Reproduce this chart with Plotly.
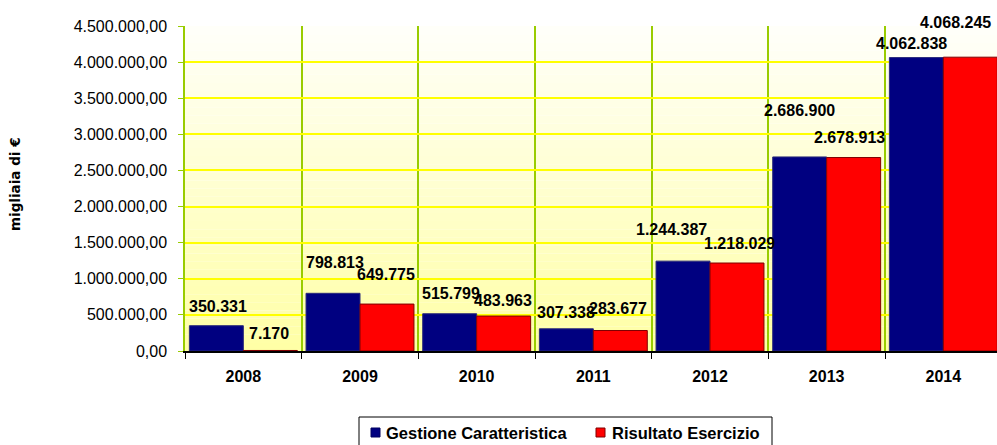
import plotly.graph_objs as go

# chart data
years = ['2008', '2009', '2010', '2011', '2012', '2013', '2014']
gestione = [350331, 798813, 515799, 307338, 1244387, 2686900, 4062838]
risultato = [7170, 649775, 483963, 283677, 1218029, 2678913, 4068245]
series_names = ['Gestione Caratteristica', 'Risultato Esercizio']
y_ticks = [0, 500000, 1000000, 1500000, 2000000, 2500000, 3000000,
           3500000, 4000000, 4500000]

# label nudges in pixels (dx, dy) relative to the bar top, as placed in the original
gestione_nudge = [(2, 19), (2, 31), (1, 20), (0, 16), (-12, 32), (0, 46), (-5, 14)]
risultato_nudge = [(-1, 17), (-1, 30), (-1, 16), (-2, 22), (2, 20), (-4, 20), (-15, 35)]

W, H = 997, 445
LEFT, TOP, BOTTOM = 185, 26, 351
FONT = 'Liberation Sans, Arial, sans-serif'
BLUE, RED = '#000080', '#FF0000'


def px_x(x):
    return (x - LEFT) / float(W - LEFT)
# end function


def px_y(y):
    return (BOTTOM - y) / float(BOTTOM - TOP)
# end function


def fmt(v):
    return '{:,}'.format(v).replace(',', '.')
# end function


def gradient_bands(n=40):
    # white at the top to pale yellow at the bottom
    shapes = []
    top, bot = 250, 165
    for i in range(n):
        b = int(round(bot + (top - bot) * (i + 0.5) / n))
        shapes.append(dict(
            type='rect', xref='paper', yref='paper',
            x0=0, x1=1, y0=i / float(n), y1=(i + 1) / float(n),
            fillcolor='rgb(255,255,%d)' % b, line=dict(width=0),
            layer='below'
        ))
    return shapes
# end function


def value_labels(values, nudges, side):
    notes = []
    for i, (v, (dx, dy)) in enumerate(zip(values, nudges)):
        notes.append(dict(
            x=i, y=v, xref='x', yref='y', text=fmt(v), showarrow=False,
            xanchor='center', yanchor='middle',
            xshift=side * 27 + dx, yshift=dy,
            font=dict(family=FONT, size=16, color='black', weight='bold')
        ))
    return notes
# end function


def legend_box():
    shapes = [
        dict(type='rect', xref='paper', yref='paper',
             x0=px_x(359), x1=px_x(772), y0=px_y(452), y1=px_y(417),
             fillcolor='white', line=dict(color='black', width=1)),
        dict(type='rect', xref='paper', yref='paper',
             x0=px_x(371), x1=px_x(380), y0=px_y(437), y1=px_y(428),
             fillcolor=BLUE, line=dict(color='#000060', width=1)),
        dict(type='rect', xref='paper', yref='paper',
             x0=px_x(596), x1=px_x(605), y0=px_y(437), y1=px_y(428),
             fillcolor=RED, line=dict(color='#800000', width=1)),
    ]
    notes = []
    for name, x in zip(series_names, [384, 610]):
        notes.append(dict(
            x=px_x(x), y=px_y(433), xref='paper', yref='paper', text=name,
            showarrow=False, xanchor='left', yanchor='middle',
            font=dict(family=FONT, size=16.5, color='black', weight='bold')
        ))
    return shapes, notes
# end function


def build():
    data = [
        go.Bar(x=years, y=gestione, name=series_names[0],
               marker=dict(color=BLUE, line=dict(color='#2a2a7a', width=1))),
        go.Bar(x=years, y=risultato, name=series_names[1],
               marker=dict(color=RED, line=dict(color='#800000', width=1))),
    ]

    leg_shapes, leg_notes = legend_box()
    notes = value_labels(gestione, gestione_nudge, -1) + \
        value_labels(risultato, risultato_nudge, 1) + leg_notes
    notes.append(dict(
        x=px_x(15), y=px_y(184), xref='paper', yref='paper',
        text='migliaia di €', showarrow=False, textangle=-90,
        xanchor='center', yanchor='middle',
        font=dict(family='DejaVu Sans', size=13.5, color='black', weight='bold')
    ))

    layout = go.Layout(
        width=W, height=H,
        margin=dict(l=LEFT, r=0, t=TOP, b=H - BOTTOM, pad=0),
        paper_bgcolor='white', plot_bgcolor='white',
        separators=',.',
        barmode='group', bargap=0.075, bargroupgap=0,
        showlegend=False,
        xaxis=dict(
            type='category', range=[-0.5, 6.46], tickson='boundaries',
            showgrid=True, gridcolor='#99CC00', gridwidth=1.5,
            showline=True, linecolor='black', linewidth=1.5,
            ticks='outside', ticklen=6, tickcolor='black', tickwidth=1.2,
            ticklabelstandoff=10,
            tickfont=dict(family=FONT, size=16, color='black', weight='bold'),
            fixedrange=True
        ),
        yaxis=dict(
            range=[0, 4500000], tickvals=y_ticks, tickformat=',.2f',
            showgrid=True, gridcolor='#FFFF00', gridwidth=1.5,
            zeroline=False,
            showline=True, linecolor='#99CC00', linewidth=1.5,
            ticks='outside', ticklen=5, tickcolor='#99CC00', tickwidth=1.2,
            ticklabelstandoff=8,
            tickfont=dict(family=FONT, size=16, color='black'),
            fixedrange=True
        ),
        shapes=gradient_bands() + leg_shapes,
        annotations=notes
    )
    fig = go.Figure(data=data, layout=layout)
    fig.write_html('out.html', config={'displayModeBar': False},
                   post_script="document.body.style.margin='0';")
# end function


if __name__ == '__main__':
    build()
# end if
